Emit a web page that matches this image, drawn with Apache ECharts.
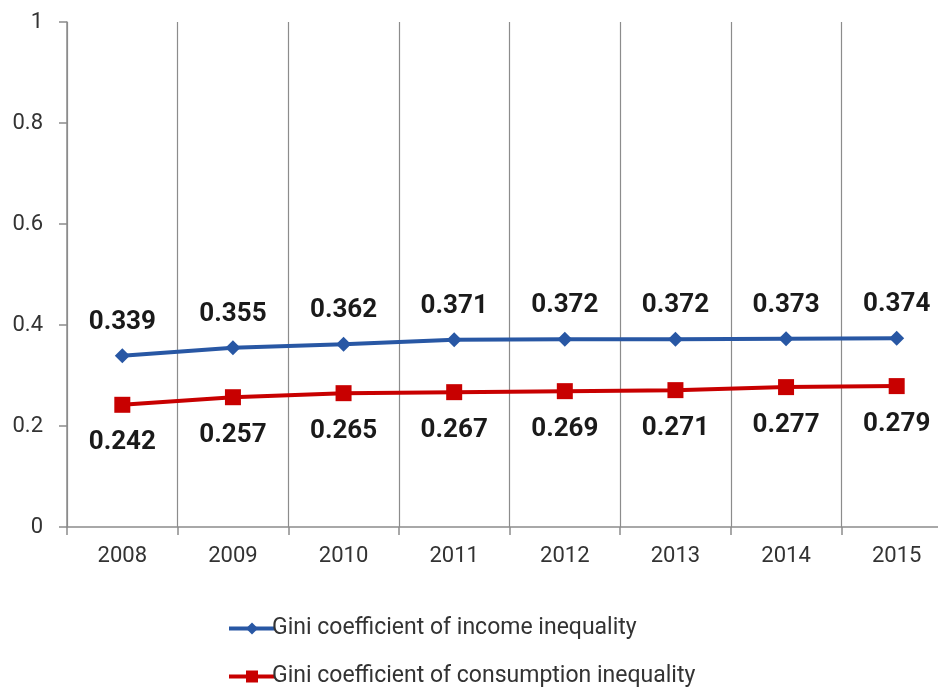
<!DOCTYPE html>
<html>
<head>
<meta charset="utf-8">
<script src="https://cdn.jsdelivr.net/npm/echarts@6/dist/echarts.min.js"></script>
<style>
  html, body { margin: 0; padding: 0; background: #fff; overflow: hidden; }
  #main { width: 960px; height: 720px; }
</style>
</head>
<body>
<div id="main"></div>
<script>
var years = ['2008', '2009', '2010', '2011', '2012', '2013', '2014', '2015'];
var incomeGini = [0.339, 0.355, 0.362, 0.371, 0.372, 0.372, 0.373, 0.374];
var consumptionGini = [0.242, 0.257, 0.265, 0.267, 0.269, 0.271, 0.277, 0.279];
var yTicks = [0, 0.2, 0.4, 0.6, 0.8, 1];

// the plot runs a little past the right edge of the window, as in the source image,
// so the chart box is a bit larger than the window and gets clipped
var myChart = echarts.init(document.getElementById('main'));

var axisGray = '#8c8c8c';

myChart.setOption({
    animation: false,
    textStyle: { fontFamily: 'Roboto' },
    grid: { left: 67, right: 8, top: 22, bottom: 193, containLabel: false },
    legend: {
        orient: 'vertical',
        left: 222,
        top: 612,
        itemGap: 25,
        itemWidth: 46,
        itemHeight: 15,
        lineStyle: { width: 4 },
        textStyle: { fontSize: 23, color: '#333', fontFamily: 'Roboto', padding: [0, 0, 0, -8] },
        data: ['Gini coefficient of income inequality', 'Gini coefficient of consumption inequality']
    },
    xAxis: {
        type: 'category',
        data: years,
        boundaryGap: true,
        axisLine: { lineStyle: { color: axisGray, width: 1.5 } },
        axisTick: { show: true, length: 8, lineStyle: { color: axisGray, width: 1.5 } },
        splitLine: { show: true, lineStyle: { color: axisGray, width: 1.2 } },
        axisLabel: { fontSize: 22, color: '#333', margin: 18 }
    },
    yAxis: {
        type: 'value',
        min: yTicks[0],
        max: yTicks[yTicks.length - 1],
        interval: 0.2,
        axisLine: { show: true, lineStyle: { color: axisGray, width: 1.5 } },
        axisTick: { show: true, length: 8, lineStyle: { color: axisGray, width: 1.5 } },
        splitLine: { show: false },
        axisLabel: { fontSize: 22, color: '#333', margin: 24 }
    },
    series: [
        {
            name: 'Gini coefficient of income inequality',
            type: 'line',
            data: incomeGini,
            symbol: 'diamond',
            symbolSize: 15,
            lineStyle: { color: '#2857a4', width: 4 },
            itemStyle: { color: '#2857a4' },
            label: {
                show: true,
                position: 'top',
                distance: 13,
                fontSize: 26,
                fontWeight: 'bold',
                color: '#1a1a1a'
            }
        },
        {
            name: 'Gini coefficient of consumption inequality',
            type: 'line',
            data: consumptionGini,
            symbol: 'rect',
            symbolSize: 16,
            lineStyle: { color: '#c80000', width: 4 },
            itemStyle: { color: '#c80000' },
            label: {
                show: true,
                position: 'bottom',
                distance: 17,
                fontSize: 26,
                fontWeight: 'bold',
                color: '#1a1a1a'
            }
        }
    ]
});
</script>
</body>
</html>
